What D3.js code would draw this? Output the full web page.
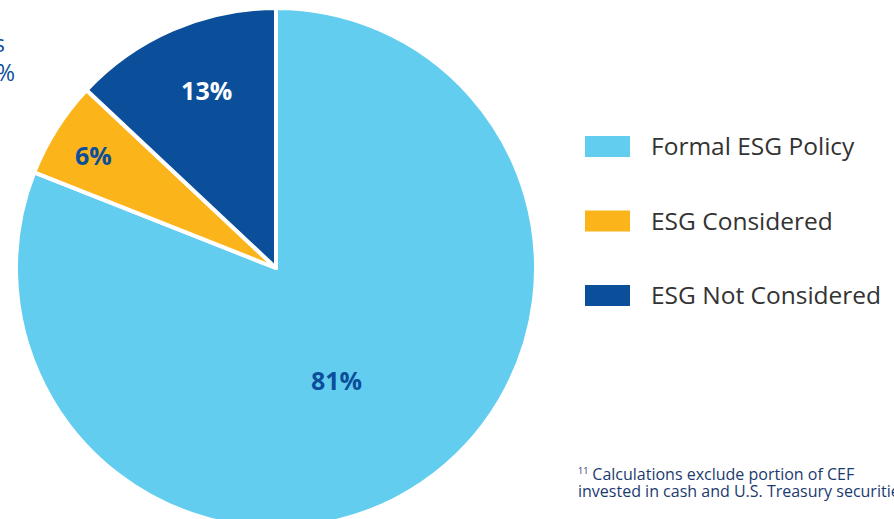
<!DOCTYPE html>
<html>
<head>
<meta charset="utf-8">
<script src="https://cdn.jsdelivr.net/npm/d3@7"></script>
<style>
  body { margin: 0; background: #fff; }
  svg { display: block; font-family: "Open Sans", sans-serif; }
</style>
</head>
<body>
<script>
// data
var categories = ["Formal ESG Policy", "ESG Considered", "ESG Not Considered"];
var values = [81, 6, 13];
var valueLabels = ["81%", "6%", "13%"];
var footnoteLines = ["Calculations exclude portion of CEF", "invested in cash and U.S. Treasury securities."];

// styles
var colors = ["#63cdf0", "#fbb41a", "#0b4f9b"];
var labelColors = ["#0b4f9b", "#0b4f9b", "#ffffff"];
var labelRadius = [128, 214, 190];
var labelShift = [6, -1, 2]; // degrees off the slice middle

var width = 894, height = 519;
var cx = 276, cy = 268, r = 260;

var svg = d3.select("body").append("svg")
  .attr("width", width)
  .attr("height", height);

// label cut off at the top left edge
svg.append("text").attr("x", 5).attr("y", 52).attr("text-anchor", "end")
  .attr("font-size", 23).attr("fill", "#0b4f9b").text("Treasuries");
svg.append("text").attr("x", 15).attr("y", 81).attr("text-anchor", "end")
  .attr("font-size", 23).attr("fill", "#0b4f9b").text("(0%");

var pie = d3.pie().sort(null).value(function(d) { return d; });
var arcs = pie(values);
var arc = d3.arc().innerRadius(0).outerRadius(r);

var g = svg.append("g").attr("transform", "translate(" + cx + "," + cy + ")");

g.selectAll("path.slice")
  .data(arcs)
  .enter().append("path")
  .attr("class", "slice")
  .attr("d", arc)
  .attr("fill", function(d, i) { return colors[i]; })
  .attr("stroke", "#fff")
  .attr("stroke-width", 4)
  .attr("stroke-linejoin", "round");

g.selectAll("text.val")
  .data(arcs)
  .enter().append("text")
  .attr("class", "val")
  .attr("transform", function(d, i) {
    var a = (d.startAngle + d.endAngle) / 2 + labelShift[i] * Math.PI / 180;
    return "translate(" + d3.pointRadial(a, labelRadius[i]) + ")";
  })
  .attr("text-anchor", "middle")
  .attr("dy", "0.35em")
  .attr("font-size", 25)
  .attr("font-weight", 700)
  .attr("fill", function(d, i) { return labelColors[i]; })
  .text(function(d, i) { return valueLabels[i]; });

// legend
var legend = svg.append("g").attr("transform", "translate(585,136)");
var item = legend.selectAll("g")
  .data(categories)
  .enter().append("g")
  .attr("transform", function(d, i) { return "translate(0," + (i * 74.5) + ")"; });
item.append("rect")
  .attr("width", 45).attr("height", 21)
  .attr("fill", function(d, i) { return colors[i]; });
item.append("text")
  .attr("x", 66).attr("y", 10.5).attr("dy", "0.35em")
  .attr("font-size", 24.5)
  .attr("fill", "#333333")
  .text(function(d) { return d; });

// footnote
var fn = svg.append("text").attr("x", 578).attr("y", 480)
  .attr("font-size", 16).attr("fill", "#1b3a6f");
fn.append("tspan").attr("font-size", 9).attr("dy", -6).text("11");
fn.append("tspan").attr("dy", 6).attr("dx", 4).text(footnoteLines[0]);
svg.append("text").attr("x", 578).attr("y", 497)
  .attr("font-size", 16).attr("fill", "#1b3a6f")
  .text(footnoteLines[1]);
</script>
</body>
</html>
